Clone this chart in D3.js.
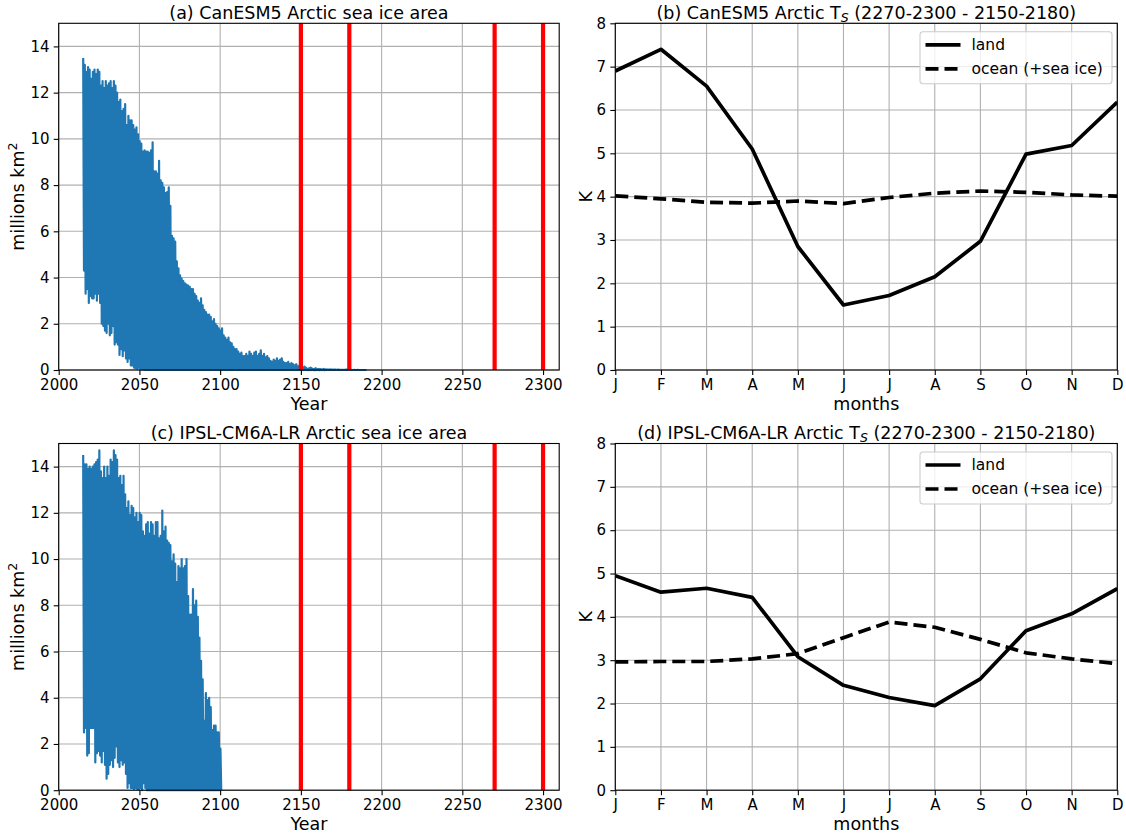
<!DOCTYPE html>
<html>
<head>
<meta charset="utf-8">
<script src="https://cdn.jsdelivr.net/npm/d3@7"></script>
<style>
  body { margin: 0; background: #fff; }
  text { font-family: "DejaVu Sans", sans-serif; fill: #000; }
</style>
</head>
<body>
<div id="chart"></div>
<script>
// ---- data ----
// Sea ice area (millions km2): yearly March maximum and September minimum
var canStartYear = 2015;
var canMax = [
  13.5, 13.2, 12.9, 13.1, 13.0, 12.6, 12.9, 13.0, 12.8, 13.0,
  12.9, 12.3, 12.5, 12.2, 12.5, 12.3, 12.4, 12.5, 12.2, 12.5,
  12.3, 12.0, 11.6, 11.7, 11.2, 11.3, 11.5, 10.6, 11.0, 10.8,
  10.8, 10.6, 10.4, 10.5, 10.2, 9.9, 9.8, 9.45, 9.5, 9.45,
  9.45, 9.4, 9.5, 9.85, 8.6, 8.6, 8.5, 9.05, 8.2, 8.1,
  7.9, 7.65, 7.7, 7.9, 7.1, 5.8, 5.7, 5.55, 4.7, 4.4,
  4.1, 3.95, 3.85, 3.75, 3.7, 3.65, 3.6, 3.5, 3.5, 3.3,
  3.2, 3.0, 2.9, 3.1, 2.8, 2.6, 2.5, 2.4, 2.4, 2.3,
  2.1, 2.2, 2.0, 1.9, 1.8, 1.7, 1.8, 1.5, 1.4, 1.3,
  1.4, 1.2, 1.15, 1.0, 0.9, 0.9, 0.8, 0.7, 0.75, 0.6,
  0.6, 0.7, 0.6, 0.8, 0.7, 0.6, 0.75, 0.8, 0.6, 0.7,
  0.85, 0.6, 0.7, 0.55, 0.6, 0.5, 0.4, 0.35, 0.45, 0.4,
  0.5, 0.4, 0.45, 0.5, 0.35, 0.3, 0.3, 0.35, 0.25, 0.3,
  0.25, 0.2, 0.25, 0.15, 0.2, 0.15, 0.1, 0.15, 0.1, 0.05,
  0.08, 0.1, 0.06, 0.05, 0.08, 0.04, 0.05, 0.04, 0.03, 0.05,
  0.03, 0.03, 0.02, 0.03, 0.02, 0.02, 0.02, 0.01, 0.02, 0.01,
  0.01, 0.01, 0.01, 0.02, 0.01, 0.01, 0.01, 0.0, 0.01, 0.0,
  0.01, 0.0, 0.0, 0.0, 0.0, 0.0
];
var canMin = [
  4.3, 3.3, 3.5, 2.9, 3.2, 3.1, 3.1, 3.3, 3.0, 3.3,
  2.9, 2.0, 1.9, 1.7, 1.6, 2.0, 1.5, 1.6, 1.9, 1.1,
  1.2, 1.1, 0.65, 0.9, 0.6, 0.85, 0.5, 0.35, 0.5, 0.2,
  0.2, 0.1, 0.08, 0.05, 0.1, 0.03, 0.02, 0.01, 0.0, 0.0,
  0.0, 0.0, 0.0, 0.0, 0.0, 0.0, 0.0, 0.0, 0.0, 0.0,
  0.0, 0.0, 0.0, 0.0, 0.0, 0.0, 0.0, 0.0, 0.0, 0.0,
  0.0, 0.0, 0.0, 0.0, 0.0, 0.0, 0.0, 0.0, 0.0, 0.0,
  0.0, 0.0, 0.0, 0.0, 0.0, 0.0, 0.0, 0.0, 0.0, 0.0,
  0.0, 0.0, 0.0, 0.0, 0.0, 0.0, 0.0, 0.0, 0.0, 0.0,
  0.0, 0.0, 0.0, 0.0, 0.0, 0.0, 0.0, 0.0, 0.0, 0.0,
  0.0, 0.0, 0.0, 0.0, 0.0, 0.0, 0.0, 0.0, 0.0, 0.0,
  0.0, 0.0, 0.0, 0.0, 0.0, 0.0, 0.0, 0.0, 0.0, 0.0,
  0.0, 0.0, 0.0, 0.0, 0.0, 0.0, 0.0, 0.0, 0.0, 0.0,
  0.0, 0.0, 0.0, 0.0, 0.0, 0.0, 0.0, 0.0, 0.0, 0.0,
  0.0, 0.0, 0.0, 0.0, 0.0, 0.0, 0.0, 0.0, 0.0, 0.0,
  0.0, 0.0, 0.0, 0.0, 0.0, 0.0, 0.0, 0.0, 0.0, 0.0,
  0.0, 0.0, 0.0, 0.0, 0.0, 0.0, 0.0, 0.0, 0.0, 0.0,
  0.0, 0.0, 0.0, 0.0, 0.0, 0.0
];

var ipslStartYear = 2015;
var ipslMax = [
  14.5, 14.1, 14.1, 13.9, 14.0, 13.9, 14.0, 14.1, 14.2, 14.3,
  14.7, 13.8, 13.5, 14.0, 13.5, 14.0, 13.6, 14.3, 14.2, 14.7,
  14.5, 14.3, 13.5, 13.6, 13.2, 13.6, 12.8, 12.2, 12.5, 11.9,
  12.3, 12.2, 11.8, 12.0, 11.6, 12.0, 11.9, 11.2, 11.0, 11.5,
  11.6, 11.1, 11.6, 11.5, 11.0, 11.6, 11.6, 10.9, 11.0, 12.1,
  11.2, 11.4, 10.8, 10.7, 10.6, 9.9, 10.2, 9.8, 9.0, 9.7,
  9.6, 10.0, 9.6, 9.7, 10.0, 8.4, 7.6, 7.6, 8.7, 8.0,
  8.2, 7.5, 6.6, 5.6, 4.8, 3.0, 4.2, 3.9, 4.0, 3.6,
  2.6, 2.8, 2.8, 2.5, 2.5, 1.8
];
var ipslMin = [
  2.5, 2.7, 1.5, 1.6, 2.7, 2.7, 2.7, 1.2, 1.6, 1.7,
  1.5, 1.2, 1.7, 1.1, 0.5, 0.7, 1.1, 1.3, 1.0, 1.4,
  1.9, 1.2, 1.0, 1.3, 1.1, 1.2, 0.7, 0.1, 0.3, 0.1,
  0.1, 0.05, 0.1, 0.05, 0.05, 0.1, 0.0, 0.3, 0.1, 0.0,
  0.0, 0.0, 0.0, 0.0, 0.0, 0.0, 0.0, 0.0, 0.0, 0.0,
  0.0, 0.0, 0.0, 0.0, 0.0, 0.0, 0.0, 0.0, 0.0, 0.0,
  0.0, 0.0, 0.0, 0.0, 0.0, 0.0, 0.0, 0.0, 0.0, 0.0,
  0.0, 0.0, 0.0, 0.0, 0.0, 0.0, 0.0, 0.0, 0.0, 0.0,
  0.0, 0.0, 0.0, 0.0, 0.0, 0.0
];

// averaging periods marked in red
var periodLines = [2150, 2180, 2270, 2300];
var yearTicks = [2000, 2050, 2100, 2150, 2200, 2250, 2300];
var iceTicks = [0, 2, 4, 6, 8, 10, 12, 14];

// Ts difference (K), (2270-2300) minus (2150-2180)
var months = ["J", "F", "M", "A", "M", "J", "J", "A", "S", "O", "N", "D"];
var kTicks = [0, 1, 2, 3, 4, 5, 6, 7, 8];
var canLand = [6.9, 7.4, 6.55, 5.1, 2.85, 1.5, 1.72, 2.15, 2.97, 4.98, 5.18, 6.18];
var canOcean = [4.02, 3.95, 3.87, 3.85, 3.9, 3.84, 3.98, 4.08, 4.13, 4.1, 4.04, 4.01];
var ipslLand = [4.95, 4.57, 4.66, 4.45, 3.08, 2.42, 2.14, 1.95, 2.57, 3.68, 4.07, 4.65];
var ipslOcean = [2.96, 2.97, 2.97, 3.03, 3.15, 3.52, 3.88, 3.76, 3.48, 3.17, 3.03, 2.92];

// ---- layout ----
var svgWidth = 1126;
var svgHeight = 834;
var iceLeft = 58.7;
var iceWidth = 500.5;
var tempLeft = 615.3;
var tempWidth = 502;
var rowTop = [23.3, 443.5];
var plotHeight = 346.7;

var gridColor = "#b0b0b0";
var tickFont = 15;
var legendFont = 15.5;
var labelFont = 17.5;

var svg = d3
  .select("#chart")
  .append("svg")
  .attr("width", svgWidth)
  .attr("height", svgHeight);

// grid lines, drawn under the data
function drawGrid(g, xScale, yScale, xTicks, yTicks, w) {
  var grid = g.append("g");
  grid
    .selectAll(".vgrid")
    .data(xTicks)
    .enter()
    .append("line")
    .attr("x1", (d) => xScale(d))
    .attr("x2", (d) => xScale(d))
    .attr("y1", 0)
    .attr("y2", plotHeight)
    .attr("stroke", gridColor)
    .attr("stroke-width", 1.1);
  grid
    .selectAll(".hgrid")
    .data(yTicks)
    .enter()
    .append("line")
    .attr("x1", 0)
    .attr("x2", w)
    .attr("y1", (d) => yScale(d))
    .attr("y2", (d) => yScale(d))
    .attr("stroke", gridColor)
    .attr("stroke-width", 1.1);
}

// ticks, tick labels and the frame
function drawAxes(g, xScale, yScale, xTicks, yTicks, xFormat, w) {
  var bottomAxis = d3
    .axisBottom(xScale)
    .tickValues(xTicks)
    .tickFormat(xFormat)
    .tickSize(5)
    .tickPadding(4.2);
  var leftAxis = d3
    .axisLeft(yScale)
    .tickValues(yTicks)
    .tickFormat(d3.format("d"))
    .tickSize(5)
    .tickPadding(4.2);

  var xAxis = g
    .append("g")
    .attr("transform", `translate(0, ${plotHeight})`)
    .call(bottomAxis);
  var yAxis = g.append("g").call(leftAxis);

  [xAxis, yAxis].forEach(function (ax) {
    ax.select(".domain").remove();
    ax.attr("font-family", "DejaVu Sans").attr("font-size", tickFont);
    ax.selectAll("line").attr("stroke", "#000").attr("stroke-width", 1.1);
    ax.selectAll("text").attr("fill", "#000");
  });

  g.append("rect")
    .attr("width", w)
    .attr("height", plotHeight)
    .attr("fill", "none")
    .attr("stroke", "#000")
    .attr("stroke-width", 1.1);
}

// sea ice area panel
function drawIcePanel(top, title, startYear, maxVals, minVals) {
  var g = svg.append("g").attr("transform", `translate(${iceLeft}, ${top})`);

  var xLinearScale = d3.scaleLinear().domain([2000, 2310]).range([0, iceWidth]);
  var yLinearScale = d3.scaleLinear().domain([0, 15]).range([plotHeight, 0]);

  drawGrid(g, xLinearScale, yLinearScale, yearTicks, iceTicks, iceWidth);

  // monthly series zigzags between March max and September min
  var points = [];
  maxVals.forEach(function (v, i) {
    points.push([startYear + i + 2 / 12, v]);
    points.push([startYear + i + 8 / 12, minVals[i]]);
  });
  var iceLine = d3
    .line()
    .x((d) => xLinearScale(d[0]))
    .y((d) => yLinearScale(d[1]));
  g.append("path")
    .datum(points)
    .attr("d", iceLine)
    .attr("fill", "none")
    .attr("stroke", "#1f77b4")
    .attr("stroke-width", 2.2)
    .attr("stroke-linejoin", "round");

  // period markers
  g.append("g")
    .selectAll("line")
    .data(periodLines)
    .enter()
    .append("line")
    .attr("x1", (d) => xLinearScale(d))
    .attr("x2", (d) => xLinearScale(d))
    .attr("y1", 0)
    .attr("y2", plotHeight)
    .attr("stroke", "#ff0000")
    .attr("stroke-width", 4.2);

  drawAxes(g, xLinearScale, yLinearScale, yearTicks, iceTicks, d3.format("d"), iceWidth);

  g.append("text")
    .attr("x", iceWidth / 2)
    .attr("y", -4.8)
    .attr("text-anchor", "middle")
    .style("font-size", labelFont + "px")
    .text(title);

  g.append("text")
    .attr("x", iceWidth / 2)
    .attr("y", plotHeight + 40)
    .attr("text-anchor", "middle")
    .style("font-size", labelFont + "px")
    .text("Year");

  var ylabel = g
    .append("text")
    .attr("transform", `translate(-34.7, ${plotHeight / 2}) rotate(-90)`)
    .attr("text-anchor", "middle")
    .style("font-size", labelFont + "px");
  ylabel.append("tspan").text("millions km");
  ylabel.append("tspan").attr("dy", -7).style("font-size", "12.5px").text("2");
}

// monthly Ts difference panel
function drawTempPanel(top, model, land, ocean, clipId) {
  var g = svg.append("g").attr("transform", `translate(${tempLeft}, ${top})`);

  var xLinearScale = d3.scaleLinear().domain([0, 11]).range([0, tempWidth]);
  var yLinearScale = d3.scaleLinear().domain([0, 8]).range([plotHeight, 0]);
  var monthIdx = d3.range(months.length);

  drawGrid(g, xLinearScale, yLinearScale, monthIdx, kTicks, tempWidth);

  g.append("clipPath")
    .attr("id", clipId)
    .append("rect")
    .attr("width", tempWidth)
    .attr("height", plotHeight);

  var tsLine = d3
    .line()
    .x((d, i) => xLinearScale(i))
    .y((d) => yLinearScale(d));

  var lines = g.append("g").attr("clip-path", `url(#${clipId})`);
  lines
    .append("path")
    .datum(land)
    .attr("d", tsLine)
    .attr("fill", "none")
    .attr("stroke", "#000")
    .attr("stroke-width", 3.7)
    .attr("stroke-linejoin", "round");
  lines
    .append("path")
    .datum(ocean)
    .attr("d", tsLine)
    .attr("fill", "none")
    .attr("stroke", "#000")
    .attr("stroke-width", 3.7)
    .attr("stroke-dasharray", "13,6")
    .attr("stroke-linejoin", "round");

  drawAxes(g, xLinearScale, yLinearScale, monthIdx, kTicks, (d) => months[d], tempWidth);

  // legend, upper right
  var legend = g.append("g").attr("transform", `translate(${tempWidth - 197.3}, 8.5)`);
  legend
    .append("rect")
    .attr("width", 192)
    .attr("height", 52)
    .attr("rx", 3)
    .attr("fill", "#fff")
    .attr("fill-opacity", 0.8)
    .attr("stroke", "#cccccc")
    .attr("stroke-width", 1.1);
  var entries = [
    { label: "land", dash: null },
    { label: "ocean (+sea ice)", dash: "13,6" },
  ];
  entries.forEach(function (e, i) {
    var y = 13 + i * 24;
    legend
      .append("line")
      .attr("x1", 5.5)
      .attr("x2", 40.5)
      .attr("y1", y)
      .attr("y2", y)
      .attr("stroke", "#000")
      .attr("stroke-width", 3.7)
      .attr("stroke-dasharray", e.dash);
    legend
      .append("text")
      .attr("x", 51.5)
      .attr("y", y)
      .attr("dy", "0.35em")
      .style("font-size", legendFont + "px")
      .text(e.label);
  });

  // title with T subscript S
  var title = g
    .append("text")
    .attr("x", tempWidth / 2)
    .attr("y", -4.8)
    .attr("text-anchor", "middle")
    .style("font-size", labelFont + "px");
  title.append("tspan").text(model + " Arctic T");
  title
    .append("tspan")
    .attr("dy", 3)
    .style("font-size", "12.5px")
    .style("font-style", "italic")
    .text("S");
  title.append("tspan").attr("dy", -3).text(" (2270-2300 - 2150-2180)");

  g.append("text")
    .attr("x", tempWidth / 2)
    .attr("y", plotHeight + 40)
    .attr("text-anchor", "middle")
    .style("font-size", labelFont + "px")
    .text("months");

  g.append("text")
    .attr("transform", `translate(-23.3, ${plotHeight / 2}) rotate(-90)`)
    .attr("text-anchor", "middle")
    .style("font-size", labelFont + "px")
    .text("K");
}

drawIcePanel(rowTop[0], "(a) CanESM5 Arctic sea ice area", canStartYear, canMax, canMin);
drawTempPanel(rowTop[0], "(b) CanESM5", canLand, canOcean, "clipB");
drawIcePanel(rowTop[1], "(c) IPSL-CM6A-LR Arctic sea ice area", ipslStartYear, ipslMax, ipslMin);
drawTempPanel(rowTop[1], "(d) IPSL-CM6A-LR", ipslLand, ipslOcean, "clipD");
</script>
</body>
</html>
